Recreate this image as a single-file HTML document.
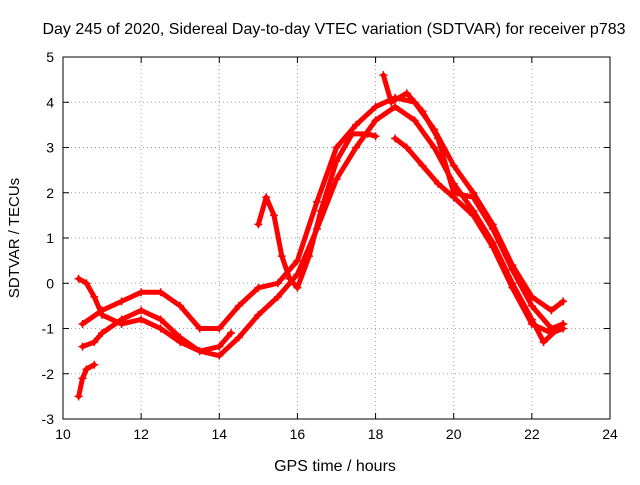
<!DOCTYPE html>
<html><head><meta charset="utf-8"><style>
body{margin:0;background:#fff;}
svg text{font-family:"Liberation Sans",sans-serif;font-size:14px;fill:#000;}
</style></head><body>
<svg id="chart" width="640" height="480">
<rect width="640" height="480" fill="#fff"/>
<g id="grid"></g>
<g id="series"></g>
<rect x="63" y="57" width="547" height="362" fill="none" stroke="#000" stroke-width="1"/>
<g id="ticks"></g>
<text x="334" y="34" text-anchor="middle" style="font-size:16px">Day 245 of 2020, Sidereal Day-to-day VTEC variation (SDTVAR) for receiver p783</text>
<text x="335" y="471" text-anchor="middle" style="font-size:16px">GPS time / hours</text>
<text transform="translate(19,238) rotate(-90)" text-anchor="middle" style="font-size:15px">SDTVAR / TECUs</text>
</svg>
<script>
const xTicks=[10,12,14,16,18,20,22,24];
const yTicks=[-3,-2,-1,0,1,2,3,4,5];
const trackA=[[10.5,-1.4],[10.8,-1.3],[11,-1.1],[11.5,-0.8],[12,-0.6],[12.5,-0.8],[13,-1.2],[13.5,-1.5],[14,-1.6],[14.5,-1.2],[15,-0.7],[15.5,-0.3],[16,0.2],[16.5,1.2],[17,2.3],[17.5,3.0],[18,3.6],[18.5,3.9],[19,3.6],[19.5,3.0],[20,2.2],[20.5,1.6],[21,0.9],[21.5,0.0],[22,-0.8],[22.3,-1.3],[22.8,-0.9]];
const trackB=[[10.5,-0.9],[11,-0.6],[11.5,-0.4],[12,-0.2],[12.5,-0.2],[13,-0.5],[13.5,-1.0],[14,-1.0],[14.5,-0.5],[15,-0.1],[15.5,0.0],[16,0.5],[16.5,1.8],[17,3.0],[17.5,3.5],[18,3.9],[18.5,4.1],[19,4.0],[19.5,3.4],[20,2.6],[20.5,2.0],[21,1.3],[21.5,0.4],[22,-0.3],[22.5,-0.6],[22.8,-0.4]];
const trackC=[[10.4,0.1],[10.6,0.0],[10.8,-0.3],[11,-0.7],[11.5,-0.9],[12,-0.8],[12.5,-1.0],[13,-1.3],[13.5,-1.5],[14,-1.4],[14.3,-1.1]];
const trackD=[[10.4,-2.5],[10.5,-2.1],[10.6,-1.9],[10.8,-1.8]];
const trackE=[[15.0,1.3],[15.2,1.9],[15.4,1.5],[15.6,0.6],[15.8,0.1],[16,-0.1],[16.3,0.6],[16.6,1.6],[17,2.7],[17.4,3.3],[17.8,3.3],[18,3.25]];
const trackF=[[18.2,4.6],[18.4,4.0],[18.8,4.2],[19.2,3.8],[19.6,3.2],[20,2.0],[20.5,1.9],[21,1.2],[21.5,0.3],[22,-0.5],[22.5,-1.0],[22.8,-0.9]];
const trackG=[[18.5,3.2],[18.8,3.0],[19.2,2.6],[19.6,2.2],[20,1.9],[20.5,1.5],[21,0.8],[21.5,-0.1],[22,-0.9],[22.5,-1.1],[22.8,-1.0]];
const tracks=[trackA,trackB,trackC,trackD,trackE,trackF,trackG];
const X0=63,X1=610,Y0=419,Y1=57;
function sx(v){return X0+(v-10)/(24-10)*(X1-X0);}
function sy(v){return Y0-(v+3)/8*(Y0-Y1);}
const NS="http://www.w3.org/2000/svg";
function mk(t,a,p){const e=document.createElementNS(NS,t);for(const k in a)e.setAttribute(k,a[k]);p.appendChild(e);return e;}
const grid=document.getElementById('grid'),ticks=document.getElementById('ticks'),ser=document.getElementById('series');
xTicks.forEach(v=>{const x=sx(v);
 if(v>10&&v<24){const l=mk('line',{x1:x,x2:x,y1:Y1,y2:Y0,stroke:'#a0a0a0','stroke-dasharray':'1,3'},grid);
 
 }
 mk('line',{x1:x,x2:x,y1:Y0,y2:Y0-6,stroke:'#000'},ticks);
 mk('line',{x1:x,x2:x,y1:Y1,y2:Y1+6,stroke:'#000'},ticks);
 const t=mk('text',{x:x,y:Y0+20,'text-anchor':'middle'},ticks);t.textContent=v;
 
 });
yTicks.forEach(v=>{const y=sy(v);
 if(v>-3&&v<5){const l=mk('line',{x1:X0,x2:X1,y1:y,y2:y,stroke:'#a0a0a0','stroke-dasharray':'1,3'},grid);
 
 }
 mk('line',{x1:X0,x2:X0+6,y1:y,y2:y,stroke:'#000'},ticks);
 mk('line',{x1:X1,x2:X1-6,y1:y,y2:y,stroke:'#000'},ticks);
 const t=mk('text',{x:X0-9,y:y+5,'text-anchor':'end'},ticks);t.textContent=v;
 
 });
tracks.forEach((tr,i)=>{
 const pl=mk('polyline',{points:tr.map(p=>sx(p[0])+','+sy(p[1])).join(' '),fill:'none',stroke:'#f00','stroke-width':5,'stroke-linejoin':'round','stroke-linecap':'round'},ser);
 
 
 tr.forEach(p=>{const x=sx(p[0]),y=sy(p[1]);
  const m=mk('path',{d:`M${x-4},${y}H${x+4}M${x},${y-4}V${y+4}`,stroke:'#f00','stroke-width':1.5},ser);
  
  });
});
</script>
</body></html>
